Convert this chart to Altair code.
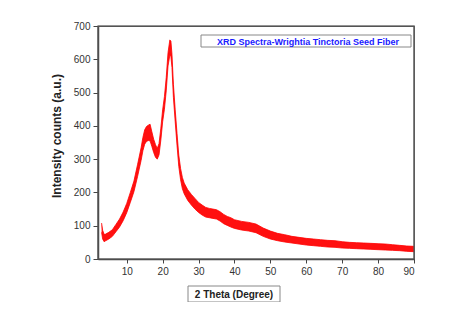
import altair as alt
import pandas as pd

# 2-theta positions (degrees) and the read lower / upper edges of the noisy trace
theta = [3, 3.3, 3.7, 4, 5, 6, 7, 8, 9, 10, 11, 12, 13, 14, 14.5, 15, 15.5, 16, 16.5, 17,
         17.5, 18, 18.5, 19, 19.5, 20, 20.5, 21, 21.5, 22, 22.3, 22.6, 23, 23.5, 24, 24.5,
         25, 25.5, 26, 27, 28, 29, 30, 31, 32, 33, 34, 35, 36, 37, 38, 39, 40, 42, 44, 46,
         48, 50, 52, 54, 56, 58, 60, 62, 64, 66, 68, 70, 72, 74, 76, 78, 80, 82, 84, 86, 88, 90]
lower = [80, 60, 52, 54, 60, 68, 82, 96, 115, 139, 170, 202, 247, 296, 325, 345, 353, 356, 355, 338,
         320, 306, 300, 313, 357, 412, 450, 505, 580, 612, 608, 575, 485, 412, 342, 278,
         238, 211, 196, 176, 162, 150, 140, 132, 126, 124, 122, 120, 114, 106, 101, 96, 92, 87, 84, 79,
         68, 60, 55, 51, 48, 45, 42, 40, 38, 36, 35, 33, 32, 31, 30, 29, 28, 27, 26, 25, 23, 22]
upper = [108, 86, 74, 74, 80, 88, 104, 120, 141, 167, 200, 234, 283, 334, 365, 388, 398, 402, 405, 382,
         360, 344, 332, 347, 393, 448, 488, 545, 620, 658, 655, 615, 525, 448, 378, 312,
         272, 245, 228, 208, 194, 182, 170, 162, 155, 152, 150, 148, 142, 134, 128, 124, 118, 113, 110, 105,
         93, 84, 77, 73, 68, 65, 62, 60, 58, 56, 55, 52, 50, 49, 48, 47, 46, 45, 43, 41, 39, 38]

x_ticks = [10, 20, 30, 40, 50, 60, 70, 80, 90]
y_ticks = [0, 100, 200, 300, 400, 500, 600, 700]

legend_text = ["XRD Spectra-Wrightia Tinctoria Seed Fiber"]
x_title = ["2 Theta (Degree)"]
y_title = ["Intensity counts (a.u.)"]

df = pd.DataFrame({"theta": theta, "lower": lower, "upper": upper})

FONT = "Liberation Sans"

x_axis = alt.Axis(values=x_ticks, title=None, grid=False, tickSize=4, labelPadding=3,
                  labelOverlap=False)
y_axis = alt.Axis(values=y_ticks, title=None, grid=False, tickSize=5, labelPadding=3,
                  labelOverlap=False)
x_scale = alt.Scale(domain=[2, 90], nice=False, zero=False)
y_scale = alt.Scale(domain=[0, 700], nice=False)

band = alt.Chart(df).mark_area(color="#ff1010", opacity=1).encode(
    x=alt.X("theta:Q", scale=x_scale, axis=x_axis),
    y=alt.Y("upper:Q", scale=y_scale, axis=y_axis),
    y2="lower:Q")

edge = alt.Chart(df).mark_line(color="#ff0000", strokeWidth=0.8).encode(
    x=alt.X("theta:Q", scale=x_scale, axis=x_axis),
    y=alt.Y("upper:Q", scale=y_scale, axis=y_axis))
edge2 = alt.Chart(df).mark_line(color="#ff0000", strokeWidth=0.8).encode(
    x=alt.X("theta:Q", scale=x_scale, axis=x_axis),
    y=alt.Y("lower:Q", scale=y_scale, axis=y_axis))

frame_df = pd.DataFrame({"t": ["frame"]})
frame = alt.Chart(frame_df).mark_rect(fill=None, stroke="#555", strokeWidth=1.2).encode(
    x=alt.value(0), x2=alt.value(316), y=alt.value(0), y2=alt.value(233))

leg_df = pd.DataFrame({"t": legend_text})
leg_box = alt.Chart(leg_df).mark_rect(fill="white", stroke="#888", strokeWidth=1).encode(
    x=alt.value(103), x2=alt.value(313), y=alt.value(9), y2=alt.value(21))
leg_txt = alt.Chart(leg_df).mark_text(font=FONT, fontSize=9, fontWeight="bold",
                                      color="#1a1aff", align="center", baseline="middle").encode(
    text="t:N", x=alt.value(210), y=alt.value(15.5))

xt_df = pd.DataFrame({"t": x_title})
xt_box = alt.Chart(xt_df).mark_rect(fill="white", stroke="#888", strokeWidth=1).encode(
    x=alt.value(90), x2=alt.value(182), y=alt.value(260), y2=alt.value(276))
xt_txt = alt.Chart(xt_df).mark_text(font=FONT, fontSize=10, fontWeight="bold",
                                    color="#222", align="center", baseline="middle").encode(
    text="t:N", x=alt.value(136), y=alt.value(268.5))

yt_df = pd.DataFrame({"t": y_title})
yt_txt = alt.Chart(yt_df).mark_text(font=FONT, fontSize=12, fontWeight="bold",
                                    color="#222", align="center", baseline="middle",
                                    angle=270).encode(
    text="t:N", x=alt.value(-41), y=alt.value(110))

chart = alt.layer(band, edge, edge2, frame, leg_box, leg_txt, xt_box, xt_txt, yt_txt).properties(
    width=316, height=233,
    background="white",
    autosize=alt.AutoSizeParams(type="none"),
    padding={"left": 90, "top": 18, "right": 44, "bottom": 43},
).configure_axis(
    labelFont=FONT, labelFontSize=10, labelColor="#333", domainColor="#444",
    tickColor="#444", domainWidth=1.5, tickWidth=1, labelOverlap=False
).configure_view(stroke="#555", strokeWidth=1.2)

chart.save("out.html", embed_options={"renderer": "svg", "actions": False})
